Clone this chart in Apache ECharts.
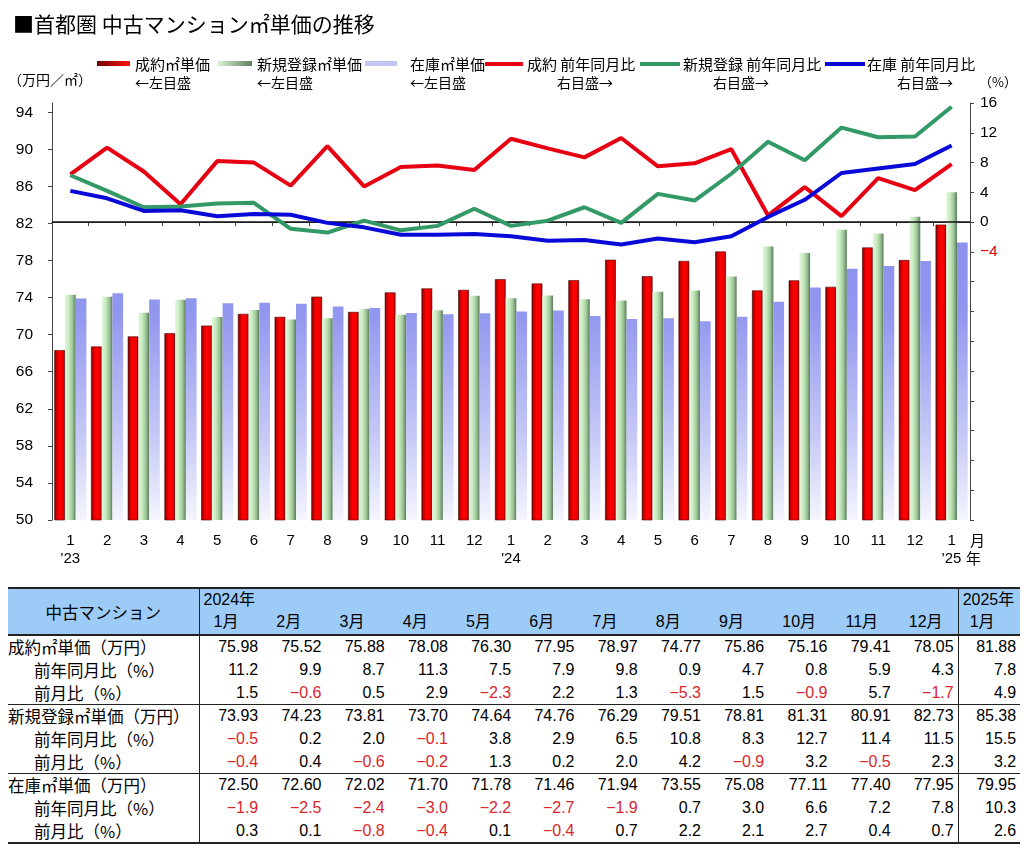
<!DOCTYPE html>
<html><head><meta charset="utf-8">
<script src="https://cdn.jsdelivr.net/npm/echarts@6/dist/echarts.min.js"></script>
<style>
html,body{margin:0;padding:0;background:#fff;width:1024px;height:850px;overflow:hidden;}
#chart{position:absolute;left:0;top:0;width:1024px;height:585px;}
#tbl{position:absolute;left:8px;top:587px;width:1012px;border-collapse:collapse;table-layout:fixed;
  font-family:"Liberation Sans","Noto Sans CJK JP",sans-serif;font-size:16px;color:#000;}
#tbl td,#tbl th{padding:0;margin:0;white-space:nowrap;overflow:visible;font-weight:normal;}
#tbl thead tr.r1 th{height:21px;line-height:21px;vertical-align:bottom;text-align:left;}
#tbl thead tr.r2 th{height:24px;line-height:24px;vertical-align:middle;text-align:left;padding-left:14px;}
#tbl thead th{background:#9ccbf7;}
#tbl thead tr.r1 th{border-top:2px solid #222;}
#tbl thead tr.r2 th,#tbl thead tr.r1 th.first{border-bottom:2px solid #222;}
#tbl thead tr.r1 th.first{text-align:center;font-family:"Noto Sans CJK JP",sans-serif;font-size:16.5px;vertical-align:middle;line-height:24px;}
#tbl thead tr.r1 th.yr{padding-left:4px;}
#tbl td{height:22.7px;line-height:22px;}
#tbl td.num{text-align:right;padding-right:4px;}
#tbl td.neg{color:#d9262c;}
#tbl td.lbl{font-family:"Noto Sans CJK JP",sans-serif;font-size:16.5px;text-align:left;}
#tbl td.sub{padding-left:26px;}
#tbl tr.gend td{border-bottom:1.5px solid #222;}
#tbl tr.gend.lastg td{border-bottom:2px solid #222;}
#tbl .c0{border-right:1.5px solid #222;}
#tbl .cl{border-left:1.5px solid #222;}
</style></head><body>
<div id="chart"></div>
<table id="tbl"></table>
<script>
// ---- data ----
const monthLabels = ["1\n'23","2","3","4","5","6","7","8","9","10","11","12",
                     "1\n'24","2","3","4","5","6","7","8","9","10","11","12","1\n'25"];
const seiyakuPrice = [68.33,68.72,69.81,70.15,70.98,72.24,71.92,74.10,72.45,74.56,74.99,74.83,
                      75.98,75.52,75.88,78.08,76.30,77.95,78.97,74.77,75.86,75.16,79.41,78.05,81.88];
const shinkiPrice  = [74.30,74.08,72.36,73.77,71.91,72.65,71.63,71.76,72.77,72.15,72.63,74.20,
                      73.93,74.23,73.81,73.70,74.64,74.76,76.29,79.51,78.81,81.31,80.91,82.73,85.38];
const zaikoPrice   = [73.90,74.46,73.79,73.92,73.39,73.44,73.33,73.04,72.89,72.34,72.20,72.31,
                      72.50,72.60,72.02,71.70,71.78,71.46,71.94,73.55,75.08,77.11,77.40,77.95,79.95];
const seiyakuYoY = [6.4,10.0,6.8,2.4,8.2,8.0,4.9,10.2,4.8,7.4,7.6,7.0,
                    11.2,9.9,8.7,11.3,7.5,7.9,9.8,0.9,4.7,0.8,5.9,4.3,7.8];
const shinkiYoY  = [6.3,4.2,2.0,2.1,2.5,2.6,-0.9,-1.4,0.2,-1.1,-0.5,1.8,
                    -0.5,0.2,2.0,-0.1,3.8,2.9,6.5,10.8,8.3,12.7,11.4,11.5,15.5];
const zaikoYoY   = [4.2,3.2,1.5,1.6,0.8,1.1,1.0,-0.1,-0.7,-1.7,-1.7,-1.6,
                    -1.9,-2.5,-2.4,-3.0,-2.2,-2.7,-1.9,0.7,3.0,6.6,7.2,7.8,10.3];
// table (2024-01 .. 2025-01)
const tableMonths = ["1月","2月","3月","4月","5月","6月","7月","8月","9月","10月","11月","12月","1月"];
const seiyakuMoM = [1.5,-0.6,0.5,2.9,-2.3,2.2,1.3,-5.3,1.5,-0.9,5.7,-1.7,4.9];
const shinkiMoM  = [-0.4,0.4,-0.6,-0.2,1.3,0.2,2.0,4.2,-0.9,3.2,-0.5,2.3,3.2];
const zaikoMoM   = [0.3,0.1,-0.8,-0.4,0.1,-0.4,0.7,2.2,2.1,2.7,0.4,0.7,2.6];
const leftTicks = {min:50, max:95, interval:4};
const rightTicks = {min:-40, max:16, interval:4};

// ---- chart ----
const FONT = '"Liberation Sans","Noto Sans CJK JP",sans-serif';
const JFONT = '"Noto Sans CJK JP",sans-serif';
const G = echarts.graphic;
const redGrad = new G.LinearGradient(0,0,1,0,[
  {offset:0,color:'#5a0000'},{offset:0.18,color:'#c80000'},{offset:0.45,color:'#ff0000'},
  {offset:0.8,color:'#f00000'},{offset:1,color:'#900000'}]);
const greenGrad = new G.LinearGradient(0,0,1,0,[
  {offset:0,color:'#e4f6de'},{offset:0.35,color:'#c9ebc0'},{offset:0.7,color:'#9cc497'},
  {offset:1,color:'#587a5c'}]);
const blueGrad = new G.LinearGradient(0,103,0,520,[
  {offset:0,color:'#858bed'},{offset:0.5,color:'#9196ef'},{offset:0.8,color:'#c6c9f6'},
  {offset:1,color:'#f4f5fe'}], true);

function txt(x,y,s,size){
  return {type:'text',x:x,y:y,silent:true,
    style:{text:s,font:'normal '+(size||15)+'px '+JFONT,fill:'#000',verticalAlign:'middle',align:'left'}};
}
const graphics = [
  {type:'rect',shape:{x:97,y:61,width:33,height:5},style:{fill:new G.LinearGradient(0,0,1,0,[{offset:0,color:'#700000'},{offset:1,color:'#ff1010'}])}},
  txt(135,64,'成約㎡単価'), txt(135,83,'←左目盛',14),
  {type:'rect',shape:{x:217,y:61,width:35,height:5},style:{fill:new G.LinearGradient(0,0,1,0,[{offset:0,color:'#dff5d8'},{offset:1,color:'#5f7f62'}])}},
  txt(257,64,'新規登録㎡単価'), txt(257,83,'←左目盛',14),
  {type:'rect',shape:{x:365,y:61,width:32,height:5},style:{fill:'#c3c6f5'}},
  txt(410,64,'在庫㎡単価'), txt(410,83,'←左目盛',14),
  {type:'line',shape:{x1:485,y1:64,x2:523,y2:64},style:{stroke:'#e60012',lineWidth:4}},
  txt(527,64,'成約 前年同月比'), txt(557,83,'右目盛→',14),
  {type:'line',shape:{x1:640,y1:64,x2:680,y2:64},style:{stroke:'#339966',lineWidth:4}},
  txt(683,64,'新規登録 前年同月比'), txt(713,83,'右目盛→',14),
  {type:'line',shape:{x1:825,y1:64,x2:865,y2:64},style:{stroke:'#0a0ad8',lineWidth:4}},
  txt(867,64,'在庫 前年同月比'), txt(897,83,'右目盛→',14),
  txt(8,80,'（万円／㎡）',14),
  txt(979,82,'（%）',13),
  txt(970,540,'月',15), txt(966,558,'年',15)
];

const chart = echarts.init(document.getElementById('chart'), null, {renderer:'canvas'});
chart.setOption({
  animation:false,
  backgroundColor:'#fff',
  title:{text:'■首都圏 中古マンション㎡単価の推移',left:8,top:9,
    textStyle:{fontFamily:JFONT,fontSize:21,fontWeight:'normal',color:'#000'}},
  grid:{left:52,right:54,top:103,bottom:65,containLabel:false},
  xAxis:{type:'category',data:monthLabels,
    axisLine:{lineStyle:{color:'#444',width:1}},
    axisTick:{show:true,length:4,lineStyle:{color:'#444'}},
    axisLabel:{fontFamily:FONT,fontSize:15,color:'#000',margin:12,lineHeight:18,interval:0}},
  yAxis:[
    {type:'value',min:leftTicks.min,max:leftTicks.max,interval:leftTicks.interval,
     axisLine:{show:true,lineStyle:{color:'#444'}},
     axisTick:{show:true,length:4,lineStyle:{color:'#444'}},
     splitLine:{show:false},
     axisLabel:{fontFamily:FONT,fontSize:15.5,color:'#000',margin:19,showMaxLabel:false}},
    {type:'value',position:'right',min:rightTicks.min,max:rightTicks.max,interval:rightTicks.interval,
     axisLine:{show:true,lineStyle:{color:'#444'}},
     axisTick:{show:true,length:4,lineStyle:{color:'#444'}},
     splitLine:{show:false},
     axisLabel:{fontFamily:FONT,fontSize:15.5,margin:10,
       formatter:function(v){ if(v< -4) return ''; return v<0 ? '−'+Math.abs(v) : String(v); },
       color:function(v){ return Number(v)<0 ? '#e00000' : '#000'; }}}
  ],
  series:[
    {name:'成約㎡単価',type:'bar',data:seiyakuPrice,barWidth:10.7,barGap:'0%',
     itemStyle:{color:redGrad,borderColor:'#4a0000',borderWidth:0.6}},
    {name:'新規登録㎡単価',type:'bar',data:shinkiPrice,barWidth:10.7,barGap:'0%',
     itemStyle:{color:greenGrad}},
    {name:'在庫㎡単価',type:'bar',data:zaikoPrice,barWidth:10.7,barGap:'0%',
     itemStyle:{color:blueGrad}},
    {name:'成約 前年同月比',type:'line',yAxisIndex:1,data:seiyakuYoY,symbol:'none',z:5,
     lineStyle:{color:'#e60012',width:4},itemStyle:{color:'#e60012'},
     markLine:{silent:true,symbol:['none','none'],label:{show:false},
       lineStyle:{color:'#111',width:1.5,type:'solid'},data:[{yAxis:0}]}},
    {name:'新規登録 前年同月比',type:'line',yAxisIndex:1,data:shinkiYoY,symbol:'none',z:5,
     lineStyle:{color:'#339966',width:4},itemStyle:{color:'#339966'}},
    {name:'在庫 前年同月比',type:'line',yAxisIndex:1,data:zaikoYoY,symbol:'none',z:5,
     lineStyle:{color:'#0a0ad8',width:4},itemStyle:{color:'#0a0ad8'}}
  ],
  graphic:graphics
});

// ---- table ----
function fmtP(v){ return v.toFixed(2); }
function fmtPct(v){ return v<0 ? '−'+Math.abs(v).toFixed(1) : v.toFixed(1); }
const N = tableMonths.length, OFF = seiyakuPrice.length - N;
let html = '<colgroup><col style="width:191px">';
for(let i=0;i<12;i++) html += '<col style="width:63.25px">';
html += '<col style="width:62px"></colgroup>';
html += '<thead><tr class="r1"><th class="first c0" rowspan="2">中古マンション</th>'
      + '<th class="yr" colspan="12">2024年</th><th class="yr cl">2025年</th></tr><tr class="r2">';
tableMonths.forEach((m,i)=>{ html += '<th'+(i===N-1?' class="cl" style="padding-left:11px"':'')+'>'+m+'</th>'; });
html += '</tr></thead><tbody>';
function row(label, sub, vals, fmt, cls){
  let h = '<tr'+(cls?' class="'+cls+'"':'')+'><td class="lbl c0'+(sub?' sub':'')+'">'+label+'</td>';
  vals.forEach((v,i)=>{
    h += '<td class="num'+(v<0?' neg':'')+(i===vals.length-1?' cl':'')+'">'+fmt(v)+'</td>';
  });
  return h+'</tr>';
}
const groups = [
  ['成約㎡単価（万円）', seiyakuPrice, seiyakuYoY, seiyakuMoM],
  ['新規登録㎡単価（万円）', shinkiPrice, shinkiYoY, shinkiMoM],
  ['在庫㎡単価（万円）', zaikoPrice, zaikoYoY, zaikoMoM]
];
groups.forEach((g,gi)=>{
  html += row(g[0], false, g[1].slice(OFF), fmtP, '');
  html += row('前年同月比（%）', true, g[2].slice(OFF), fmtPct, '');
  html += row('前月比（%）', true, g[3], fmtPct, 'gend'+(gi===2?' lastg':''));
});
html += '</tbody>';
document.getElementById('tbl').innerHTML = html;
</script>
</body></html>
